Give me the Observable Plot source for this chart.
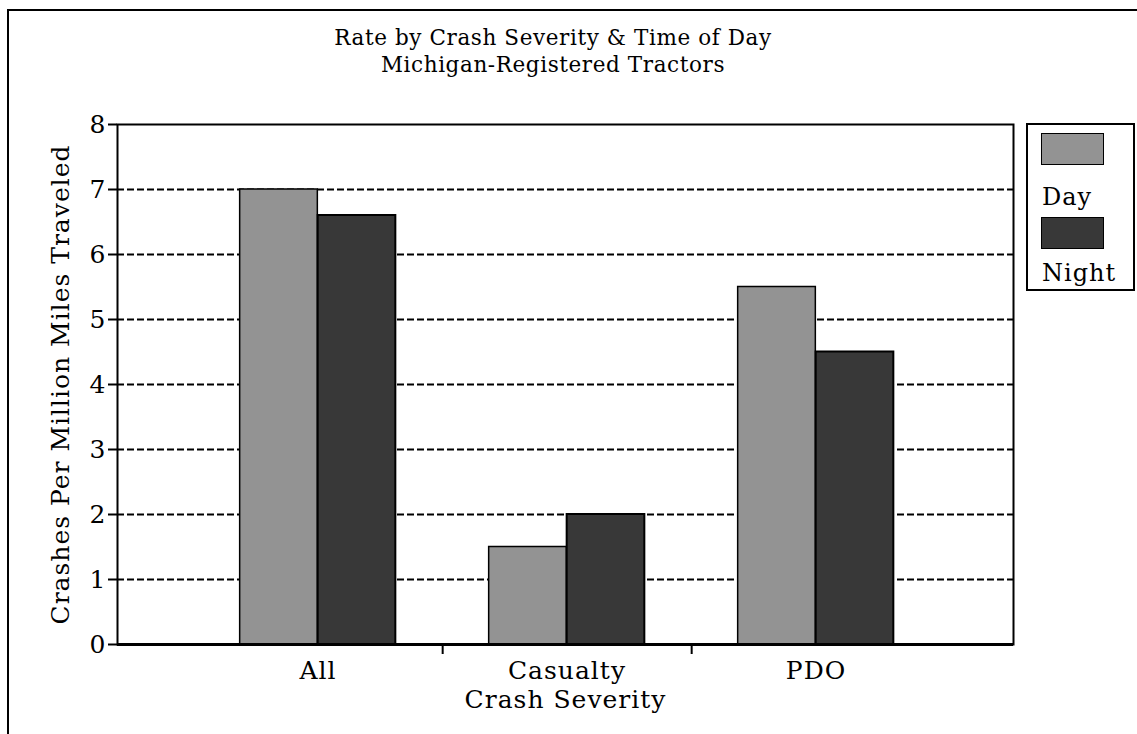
<!DOCTYPE html>
<html>
<head>
<meta charset="utf-8">
<script src="https://cdn.jsdelivr.net/npm/d3@7"></script>
<script src="https://cdn.jsdelivr.net/npm/@observablehq/plot@0.6"></script>
<style>
  html, body { margin: 0; padding: 0; background: #fff; }
  #wrap { position: relative; width: 1137px; height: 734px; overflow: hidden; font-family: "DejaVu Serif", serif; color: #000; }
  #outer { position: absolute; left: 7px; top: 9px; width: 1200px; height: 800px; border-top: 2px solid #000; border-left: 2px solid #000; }
  #title { position: absolute; left: 0; top: 24px; width: 1106px; text-align: center; font-size: 21.5px; letter-spacing: 0.6px; line-height: 27px; }
  #chart { position: absolute; left: 0; top: 0; }
  #legend { position: absolute; left: 1026px; top: 123px; width: 105px; height: 164px; border: 2px solid #000; background: #fff; }
  .sw { position: absolute; left: 13px; width: 63px; height: 32px; box-sizing: border-box; border: 1px solid #000; }
  .lt { position: absolute; left: 14px; font-size: 24px; letter-spacing: 1px; line-height: 26px; }
</style>
</head>
<body>
<div id="wrap">
  <div id="outer"></div>
  <div id="chart"></div>
  <div id="title">Rate by Crash Severity &amp; Time of Day<br>Michigan-Registered Tractors</div>
  <div id="legend"></div>
</div>
<script>
// ---- data ----
const categories = ["All", "Casualty", "PDO"];
const series = ["Day", "Night"];
const dayRates = [7.0, 1.5, 5.5];
const nightRates = [6.6, 2.0, 4.5];
const yTicks = [0, 1, 2, 3, 4, 5, 6, 7, 8];
const gridTicks = [1, 2, 3, 4, 5, 6, 7];
const yLabel = "Crashes Per Million Miles Traveled";
const xLabel = "Crash Severity";

// ---- styles ----
const colors = {Day: "#939393", Night: "#383838"};
const W = 1137, H = 734;
const mL = 117, mR = W - 1013, mT = 124, mB = H - 644;
const xRange = [192, 940];
const band = (xRange[1] - xRange[0]) / categories.length;
const half = band / 2;
const barW = 78;

const dayData = categories.map((c, i) => ({category: c, series: "Day", value: dayRates[i]}));
const nightData = categories.map((c, i) => ({category: c, series: "Night", value: nightRates[i]}));

const chart = Plot.plot({
  width: W,
  height: H,
  marginLeft: mL,
  marginRight: mR,
  marginTop: mT,
  marginBottom: mB,
  style: {fontFamily: "DejaVu Serif, serif", fontSize: "25px", letterSpacing: "1px", color: "#000", background: "transparent"},
  x: {domain: categories, range: xRange, padding: 0},
  y: {domain: [0, 8]},
  marks: [
    Plot.gridY(gridTicks, {stroke: "#000", strokeOpacity: 1, strokeWidth: 2.2, strokeDasharray: "7,3"}),
    Plot.barY(dayData, {x: "category", y: "value", fill: colors.Day, stroke: "#000", strokeWidth: 1.5,
      insetLeft: half - barW, insetRight: half}),
    Plot.barY(nightData, {x: "category", y: "value", fill: colors.Night, stroke: "#000", strokeWidth: 2,
      insetLeft: half, insetRight: half - barW}),
    Plot.frame({stroke: "#000", strokeWidth: 2}),
    Plot.ruleY([0], {stroke: "#000", strokeWidth: 3}),
    Plot.ruleX(categories.slice(0, -1), {x: d => d, dx: half, y1: 0, y2: 0, insetBottom: -10, stroke: "#000", strokeWidth: 2}),
    Plot.axisY(yTicks, {tickSize: 9, tickPadding: 2, strokeWidth: 2, fontSize: 25, tickFormat: d3.format("d"),
      label: yLabel, labelAnchor: "center", labelArrow: "none", labelOffset: 66}),
    Plot.axisX({tickSize: 0, tickPadding: 17, fontSize: 25,
      label: xLabel, labelAnchor: "center", labelArrow: "none", labelOffset: 63})
  ]
});
document.getElementById("chart").appendChild(chart);

// ---- legend ----
const legend = document.getElementById("legend");
const swatchTops = [8, 92];
const textTops = [59, 135];
series.forEach((s, i) => {
  const sw = document.createElement("div");
  sw.className = "sw";
  sw.style.top = swatchTops[i] + "px";
  sw.style.background = colors[s];
  legend.appendChild(sw);
  const t = document.createElement("div");
  t.className = "lt";
  t.style.top = textTops[i] + "px";
  t.textContent = s;
  legend.appendChild(t);
});
</script>
</body>
</html>
